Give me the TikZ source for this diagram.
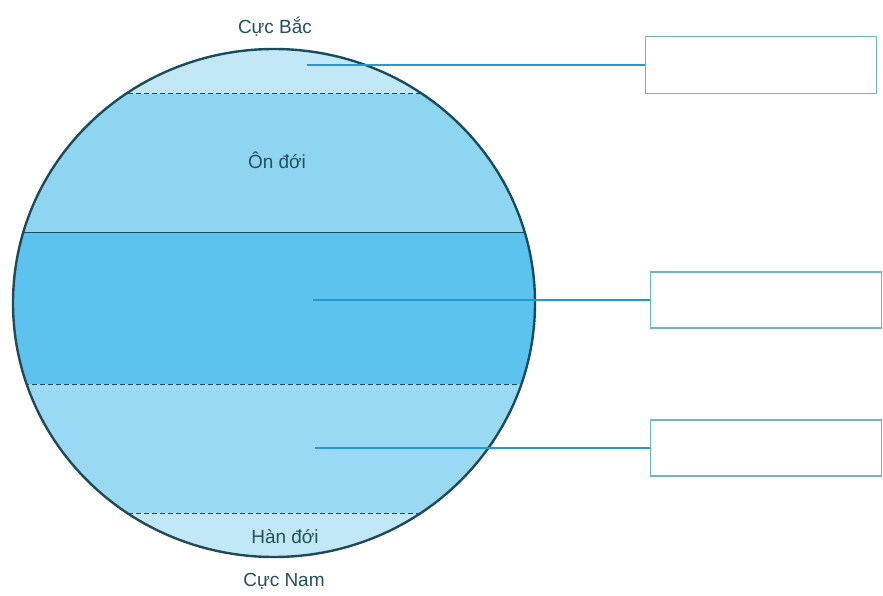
\documentclass[tikz,border=0pt]{standalone}
\usepackage{fontspec}
\setmainfont{Liberation Sans}
\definecolor{capc}{HTML}{C2E8F8}
\definecolor{tempc}{HTML}{8ED5F2}
\definecolor{tropc}{HTML}{5CC3EE}
\definecolor{tempb}{HTML}{9AD9F3}
\definecolor{rimc}{HTML}{1E4B5A}
\definecolor{txtc}{HTML}{24505E}
\definecolor{linec}{HTML}{1E9BD7}
\definecolor{boxc}{HTML}{6DB6BA}
\tikzset{
  lbl/.style={font=\fontsize{19}{21}\selectfont, text=txtc, inner sep=0pt},
  answerbox/.style={draw=boxc, line width=1.6pt, fill=white, minimum width=231pt, minimum height=56pt, inner sep=0pt},
  leader/.style={draw=linec, line width=2pt},
  zoneline/.style={draw=rimc, line width=1pt},
}
\begin{document}
\begin{tikzpicture}[x=1pt,y=-1pt]
\useasboundingbox (0,0) rectangle (883,596);
\fill[white] (0,0) rectangle (883,596);
\begin{scope}
  \clip (274,303) ellipse [x radius=261, y radius=254];
  \fill[capc] (0,40) rectangle (560,94);
  \fill[tempc] (0,94) rectangle (560,232);
  \fill[tropc] (0,232) rectangle (560,384);
  \fill[tempb] (0,384) rectangle (560,513);
  \fill[capc] (0,513) rectangle (560,570);
  \draw[zoneline, dashed, dash pattern=on 5pt off 3pt] (0,94) -- (560,94);
  \draw[zoneline] (0,232) -- (560,232);
  \draw[zoneline, dashed, dash pattern=on 5pt off 3pt] (0,384) -- (560,384);
  \draw[zoneline, dashed, dash pattern=on 5pt off 3pt] (0,513) -- (560,513);
\end{scope}
\draw[rimc, line width=2.4pt] (274,303) ellipse [x radius=261, y radius=254];
\node[lbl] (bac) at (275,27) {Cực Bắc};
\node[lbl] (ondoi) at (277,160) {Ôn đới};
\node[lbl] (handoi) at (285,537) {Hàn đới};
\node[lbl] (nam) at (284,581) {Cực Nam};
\node[answerbox, minimum height=57pt] (box1) at (761,65) {};
\node[answerbox] (box2) at (766,300) {};
\node[answerbox] (box3) at (766,448) {};
\coordinate (p1) at (307,65);
\coordinate (p2) at (313,300);
\coordinate (p3) at (315,448);
\draw[leader] (p1) -- (box1.west);
\draw[leader] (p2) -- (box2.west);
\draw[leader] (p3) -- (box3.west);
\end{tikzpicture}
\end{document}
